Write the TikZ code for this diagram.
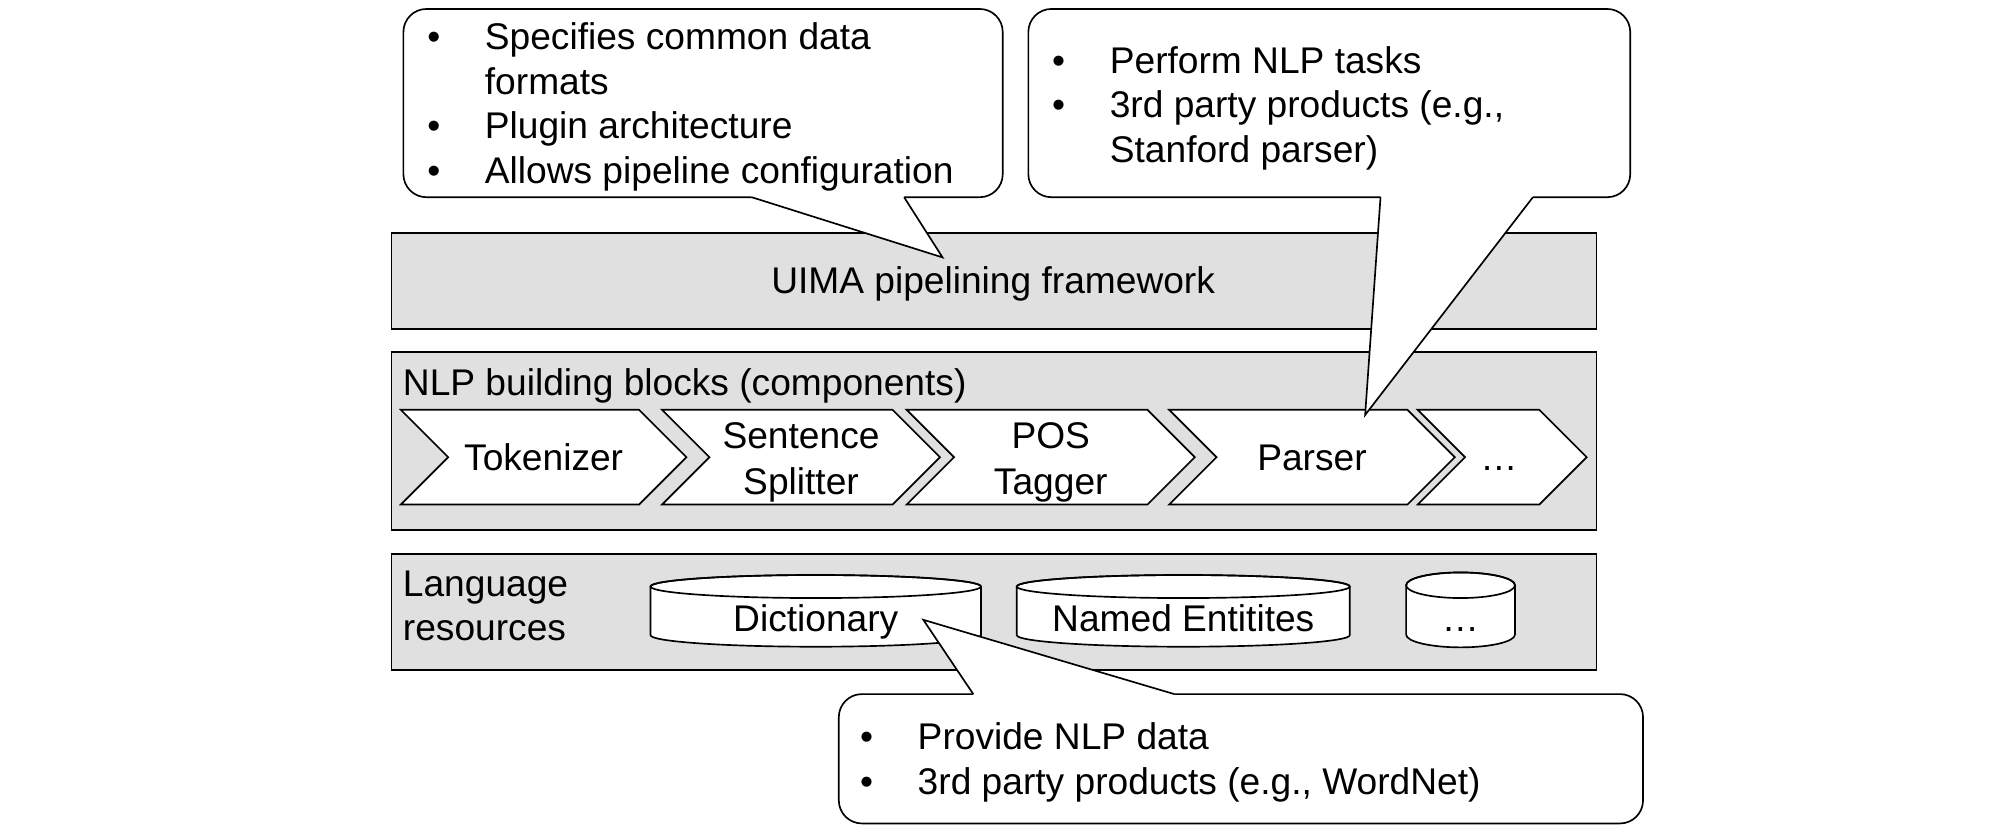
\documentclass[tikz,border=0pt]{standalone}
\usepackage{fontspec}
\setmainfont{Liberation Sans}
\definecolor{layergray}{RGB}{224,224,224}
\newcommand\mybullet{\makebox[45pt][l]{•}}
\begin{document}
\begin{tikzpicture}[x=1pt,y=-1pt,line width=1.3pt,
  layer/.style={draw=black,fill=layergray,inner sep=0pt,anchor=north west},
  txt/.style={inner sep=0pt,anchor=base west,font=\fontsize{29}{35}\selectfont},
  ctxt/.style={txt,anchor=base},
  bubble/.style={draw=black,fill=white,rounded corners=18pt,inner sep=0pt},
  chev/.style={draw=black,fill=white,line join=miter},
  cyl/.style={draw=black,fill=white}]
\useasboundingbox (0,0) rectangle (1568,645.8);

% layers
\node[layer,minimum width=941pt,minimum height=74.5pt] (uima) at (305,181.5) {};
\node[layer,minimum width=941pt,minimum height=139pt] (nlp) at (305,274) {};
\node[layer,minimum width=941pt,minimum height=90.5pt] (lang) at (305,432) {};

\node[ctxt] (uimatext) at (775.5,229) {UIMA pipelining framework};
\node[txt] (nlptext) at (314,308.5) {NLP building blocks (components)};
\node[txt] (lang1) at (314,465.5) {Language};
\node[txt] (lang2) at (314,500.5) {resources};

% chevrons
\draw[chev] (313,320) -- (499,320) -- ++(37,37) -- (499,394) -- (313,394) -- ++(37,-37) -- cycle;
\draw[chev] (517,320) -- (697,320) -- ++(37,37) -- (697,394) -- (517,394) -- ++(37,-37) -- cycle;
\draw[chev] (708,320) -- (896,320) -- ++(37,37) -- (896,394) -- (708,394) -- ++(37,-37) -- cycle;
\draw[chev] (913,320) -- (1099,320) -- ++(37,37) -- (1099,394) -- (913,394) -- ++(37,-37) -- cycle;
\draw[chev] (1107,320) -- (1202,320) -- ++(37,37) -- (1202,394) -- (1107,394) -- ++(37,-37) -- cycle;

\node[ctxt] (tok) at (424.5,367.5) {Tokenizer};
\node[ctxt] (sent1) at (625.5,350.5) {Sentence};
\node[ctxt] (sent2) at (625.5,386) {Splitter};
\node[ctxt] (pos1) at (820.5,350.5) {POS};
\node[ctxt] (pos2) at (820.5,386) {Tagger};
\node[ctxt] (parser) at (1024.5,367.5) {Parser};
\node[ctxt] (more) at (1170.5,367.5) {…};

% cylinders
\draw[cyl] (508,458) -- (508,496) arc[start angle=180,end angle=0,x radius=129,y radius=9] -- (766,458) arc[start angle=0,end angle=-180,x radius=129,y radius=9] -- cycle;
\draw (637,458) ellipse[x radius=129,y radius=9];
\draw[cyl] (794,458) -- (794,496) arc[start angle=180,end angle=0,x radius=130,y radius=9] -- (1054,458) arc[start angle=0,end angle=-180,x radius=130,y radius=9] -- cycle;
\draw (924,458) ellipse[x radius=130,y radius=9];
\draw[cyl] (1098,457) -- (1098,495.5) arc[start angle=180,end angle=0,x radius=42.5,y radius=10] -- (1183,457) arc[start angle=0,end angle=-180,x radius=42.5,y radius=10] -- cycle;
\draw (1140.5,457) ellipse[x radius=42.5,y radius=10];

\node[ctxt] (dict) at (637,493) {Dictionary};
\node[ctxt] (named) at (924,493) {Named Entitites};
\node[ctxt] (moreres) at (1140.5,493) {…};

% callout 1
\node[bubble,minimum width=468pt,minimum height=147pt] (c1) at (549,80.5) {};
\coordinate (c1a) at (587,154);
\coordinate (c1b) at (706,154);
\coordinate (c1tip) at (736,201);
\fill[white] (587,149) -- (c1a) -- (c1tip) -- (c1b) -- (706,149) -- cycle;
\draw (c1a) -- (c1tip) -- (c1b);
\node[txt] (c1l1) at (333,38.5) {\mybullet Specifies common data};
\node[txt] (c1l2) at (378,73.5) {formats};
\node[txt] (c1l3) at (333,108.5) {\mybullet Plugin architecture};
\node[txt] (c1l4) at (333,143.5) {\mybullet Allows pipeline configuration};

% callout 2
\node[bubble,minimum width=470pt,minimum height=147pt] (c2) at (1038,80.5) {};
\coordinate (c2a) at (1078,154);
\coordinate (c2b) at (1197,154);
\coordinate (c2tip) at (1066,324);
\fill[white] (1078,149) -- (c2a) -- (c2tip) -- (c2b) -- (1197,149) -- cycle;
\draw (c2a) -- (c2tip) -- (c2b);
\node[txt] (c2l1) at (821,57) {\mybullet Perform NLP tasks};
\node[txt] (c2l2) at (821,92) {\mybullet 3rd party products (e.g.,};
\node[txt] (c2l3) at (866,127) {Stanford parser)};

% callout 3
\node[bubble,minimum width=628pt,minimum height=101pt] (c3) at (969,592.5) {};
\coordinate (c3a) at (760,542);
\coordinate (c3b) at (917,542);
\coordinate (c3tip) at (721,484);
\fill[white] (760,547) -- (c3a) -- (c3tip) -- (c3b) -- (917,547) -- cycle;
\draw (c3a) -- (c3tip) -- (c3b);
\node[txt] (c3l1) at (671,585.5) {\mybullet Provide NLP data};
\node[txt] (c3l2) at (671,620.5) {\mybullet 3rd party products (e.g., WordNet)};
\end{tikzpicture}
\end{document}
